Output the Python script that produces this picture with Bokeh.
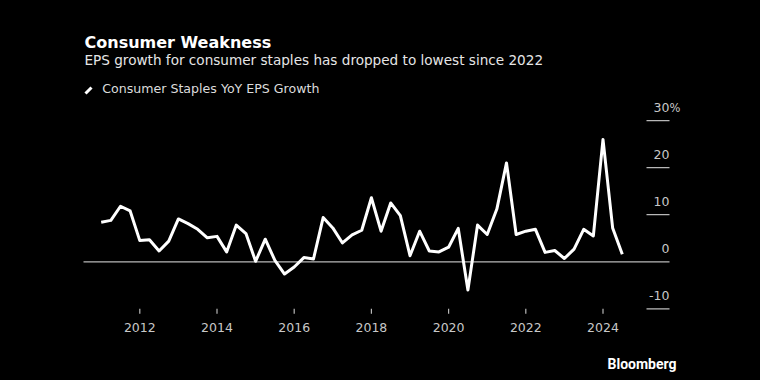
import pandas as pd
from bokeh.plotting import figure
from bokeh.models import Range1d
from bokeh.core.properties import value
from bokeh.embed import file_html
from bokeh.resources import INLINE

# ---------------- data ----------------
title = "Consumer Weakness"
subtitle = "EPS growth for consumer staples has dropped to lowest since 2022"
series_name = "Consumer Staples YoY EPS Growth"
source_text = "Bloomberg"

quarters = pd.period_range("2011Q1", "2024Q3", freq="Q")
eps_growth = [
    8.4, 8.8, 11.8, 10.8, 4.5, 4.7, 2.3, 4.4, 9.1, 8.1,
    6.9, 5.1, 5.4, 2.1, 7.8, 6.0, 0.1, 4.8, 0.3, -2.6,
    -1.1, 0.9, 0.6, 9.4, 7.2, 4.0, 5.7, 6.7, 13.6, 6.5,
    12.5, 9.8, 1.3, 6.5, 2.3, 2.1, 3.1, 7.1, -6.0, 7.8,
    5.8, 11.2, 21.0, 5.8, 6.5, 6.9, 2.0, 2.4, 0.7, 2.7,
    6.9, 5.5, 26.0, 7.2, 1.6,
]
x_tick_years = [2012, 2014, 2016, 2018, 2020, 2022, 2024]
x_tick_labels = ["2012", "2014", "2016", "2018", "2020", "2022", "2024"]
y_ticks = [-10, 0, 10, 20, 30]
y_tick_labels = ["-10", "0", "10", "20", "30"]
y_unit = "%"

xs = [q.year + (q.quarter - 1) / 4 for q in quarters]

# ---------------- layout (page pixels -> data) ----------------
W, H = 760, 380
PX_YEAR = 38.6
PX_UNIT = 4.708
X0 = 2012 - 139.3 / PX_YEAR
X1 = X0 + W / PX_YEAR
ZERO_PY = 261.3
YTOP = ZERO_PY / PX_UNIT
YBOT = (ZERO_PY - H) / PX_UNIT


def X(px):
    return X0 + px / PX_YEAR


def Y(py):
    return (ZERO_PY - py) / PX_UNIT


FONT = "DejaVu Sans"
TICK_COLOR = "#b8b8b8"
LABEL_COLOR = "#c8c8c8"

p = figure(width=W, height=H, x_range=Range1d(X0, X1), y_range=Range1d(YBOT, YTOP),
           output_backend="svg", toolbar_location=None, min_border=0)
p.axis.visible = False
p.grid.visible = False
p.outline_line_color = None
p.background_fill_color = "black"
p.border_fill_color = "black"

# y ticks: short lines, zero line full width
for v in y_ticks:
    left = X(83) if v == 0 else X(646)
    p.segment(x0=left, y0=v, x1=X(669), y1=v, line_color=TICK_COLOR, line_width=1.3)

LABEL_RAISE = 13 / PX_UNIT
p.text(x=[X(669)] * len(y_ticks), y=[v + LABEL_RAISE for v in y_ticks], text=y_tick_labels,
       text_font=value(FONT), text_font_size="12.5px", text_color=LABEL_COLOR,
       text_align="right", text_baseline="alphabetic")
p.text(x=[X(669)], y=[y_ticks[-1] + LABEL_RAISE], text=[y_unit],
       text_font=value(FONT), text_font_size="11.5px", text_color=LABEL_COLOR,
       text_align="left", text_baseline="alphabetic")

# x ticks
p.segment(x0=x_tick_years, y0=[Y(308.3)] * len(x_tick_years),
          x1=x_tick_years, y1=[Y(313.3)] * len(x_tick_years),
          line_color=TICK_COLOR, line_width=1.2)
p.text(x=x_tick_years, y=[Y(326.5)] * len(x_tick_years), text=x_tick_labels,
       text_font=value(FONT), text_font_size="12.5px", text_color=LABEL_COLOR,
       text_align="center", text_baseline="alphabetic")

# data line
p.line(xs, eps_growth, line_color="white", line_width=3, line_join="round")

# titles
p.text(x=[X(84)], y=[Y(42.3)], text=[title], text_font=value(FONT), text_font_style="bold",
       text_font_size="16px", text_color="white", text_baseline="alphabetic")
p.text(x=[X(84)], y=[Y(59.7)], text=[subtitle], text_font=value(FONT),
       text_font_size="13.6px", text_color="#e6e6e6", text_baseline="alphabetic")

# legend
p.segment(x0=[X(85)], y0=[Y(93)], x1=[X(91)], y1=[Y(87)], line_color="white",
          line_width=3)
p.text(x=[X(101.7)], y=[Y(88)], text=[series_name], text_font=value(FONT),
       text_font_size="12.6px", text_color="#dcdcdc", text_baseline="alphabetic")

# source
p.text(x=[X(676)], y=[Y(363)], text=[source_text], text_font=value("Roboto"),
       text_font_style="bold", text_font_size="14px", text_color="white",
       text_align="right", text_baseline="alphabetic")

html = file_html(p, INLINE)
html = html.replace("</head>",
                    "<style>html,body{background:#000;margin:0;overflow:hidden;}</style></head>", 1)
open("out.html", "w").write(html)
